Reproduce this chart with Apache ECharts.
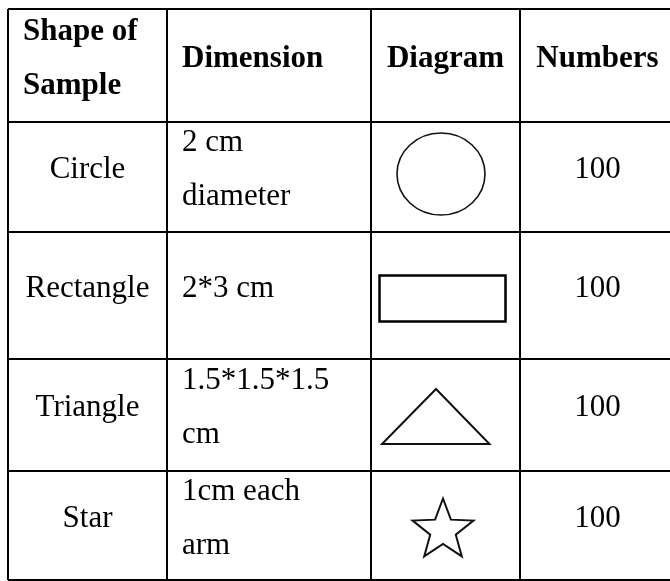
<!DOCTYPE html>
<html>
<head>
<meta charset="utf-8">
<title>Shape of Sample</title>
<script src="https://cdn.jsdelivr.net/npm/echarts@6/dist/echarts.min.js"></script>
<style>
  html, body { margin: 0; padding: 0; background: #fff; }
  #chart { width: 670px; height: 581px; }
</style>
</head>
<body>
<div id="chart"></div>
<script>
// table content
var headers = ['Shape of\nSample', 'Dimension', 'Diagram', 'Numbers'];
var shapes = ['Circle', 'Rectangle', 'Triangle', 'Star'];
var dimensions = ['2 cm\ndiameter', '2*3 cm', '1.5*1.5*1.5\ncm', '1cm each\narm'];
var diagrams = ['circle', 'rectangle', 'triangle', 'star'];
var numbers = [100, 100, 100, 100];

// layout in axis units (1 unit = 1px inside the grid)
// the last column runs past the right edge of the picture
var colEdges = [0, 159, 363, 512, 667];
var rowEdges = [0, 113, 223, 350, 462, 571];
var VIEW_W = 662;
var FONT = '"Liberation Serif", "Times New Roman", serif';
var TEXT_DY = -7;

// build cell list from the arrays
var cells = [];
headers.forEach(function (h, c) {
  cells.push({ value: [c, 0], text: h, bold: true, align: (c < 2 ? 'left' : 'center') });
});
shapes.forEach(function (s, i) {
  cells.push({ value: [0, i + 1], text: s, bold: false, align: 'center' });
  cells.push({ value: [1, i + 1], text: dimensions[i], bold: false, align: 'left' });
  cells.push({ value: [3, i + 1], text: String(numbers[i]), bold: false, align: 'center' });
});

var gridLines = [];
colEdges.forEach(function (x) { gridLines.push([0, x]); });
rowEdges.forEach(function (y) { gridLines.push([1, y]); });

var diagramData = diagrams.map(function (d, i) { return { value: [2, i + 1], shape: d }; });

function renderLine(params, api) {
  var dir = api.value(0), v = api.value(1);
  var a, b;
  if (dir === 0) {
    a = api.coord([v, rowEdges[0]]); b = api.coord([v, rowEdges[rowEdges.length - 1]]);
  } else {
    a = api.coord([colEdges[0], v]); b = api.coord([colEdges[colEdges.length - 1], v]);
  }
  return {
    type: 'line',
    shape: { x1: a[0], y1: a[1], x2: b[0], y2: b[1] },
    style: { stroke: '#000', lineWidth: 2 }
  };
}

function renderText(params, api) {
  var item = cells[params.dataIndex];
  var c = api.value(0), r = api.value(1);
  var x0 = colEdges[c], x1 = colEdges[c + 1];
  var yc = (rowEdges[r] + rowEdges[r + 1]) / 2;
  var x = item.align === 'left' ? x0 + 15 : (x0 + x1) / 2;
  var p = api.coord([x, yc]);
  return {
    type: 'text',
    style: {
      text: item.text,
      x: p[0],
      y: p[1] + TEXT_DY,
      align: item.align,
      verticalAlign: 'middle',
      font: (item.bold ? 'bold ' : '') + '31px ' + FONT,
      lineHeight: 54,
      fill: '#000'
    }
  };
}

function renderDiagram(params, api) {
  var shape = diagramData[params.dataIndex].shape;
  var c = api.value(0), r = api.value(1);
  var cx = (colEdges[c] + colEdges[c + 1]) / 2;
  var cy = (rowEdges[r] + rowEdges[r + 1]) / 2;
  var style = { stroke: '#111', fill: 'none', lineWidth: 2 };
  if (shape === 'circle') {
    var o = api.coord([cx - 4.5, cy - 3]);
    var s = api.size([44, 41]);
    return { type: 'ellipse', shape: { cx: o[0], cy: o[1], rx: s[0], ry: s[1] },
      style: { stroke: '#111', fill: 'none', lineWidth: 1.6 } };
  }
  if (shape === 'rectangle') {
    var tl = api.coord([cx - 66, cy - 20]);
    var sz = api.size([126, 46]);
    return { type: 'rect', shape: { x: tl[0], y: tl[1], width: sz[0], height: sz[1] },
      style: { stroke: '#000', fill: 'none', lineWidth: 2.5 } };
  }
  if (shape === 'triangle') {
    var pts = [[cx - 9.5, cy - 26], [cx + 44, cy + 29], [cx - 63.5, cy + 29]].map(function (q) { return api.coord(q); });
    return { type: 'polygon', shape: { points: pts }, style: style };
  }
  // star
  var scx = cx - 2.5, scy = cy + 5, R = 32, ri = R * 0.42;
  var starPts = [];
  for (var k = 0; k < 10; k++) {
    var rad = (k % 2 === 0) ? R : ri;
    var ang = -Math.PI / 2 + k * Math.PI / 5;
    starPts.push(api.coord([scx + rad * Math.cos(ang), scy + rad * Math.sin(ang)]));
  }
  return { type: 'polygon', shape: { points: starPts }, style: style };
}

var myChart = echarts.init(document.getElementById('chart'));
var option = {
  animation: false,
  backgroundColor: '#fff',
  grid: { left: 8, top: 9, right: 0, bottom: 1 },
  xAxis: { type: 'value', min: 0, max: VIEW_W, show: false },
  yAxis: { type: 'value', min: rowEdges[0], max: rowEdges[rowEdges.length - 1], inverse: true, show: false },
  series: [
    { type: 'custom', name: 'diagrams', renderItem: renderDiagram, data: diagramData, silent: true },
    { type: 'custom', name: 'text', renderItem: renderText, data: cells, silent: true },
    { type: 'custom', name: 'lines', renderItem: renderLine, data: gridLines, silent: true }
  ]
};
myChart.setOption(option);
</script>
</body>
</html>
